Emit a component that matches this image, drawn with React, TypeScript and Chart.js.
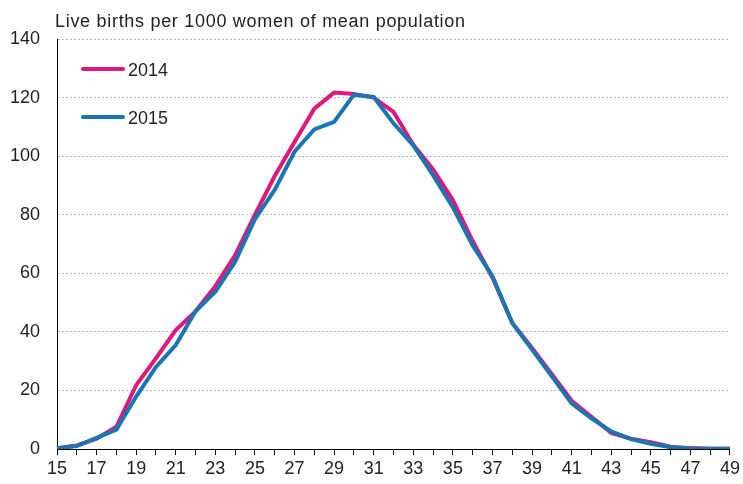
import React, { useEffect, useRef } from "react";
import { Chart, registerables } from "chart.js";

Chart.register(...registerables);

const ages = ["15","16","17","18","19","20","21","22","23","24","25","26","27","28","29","30","31","32","33","34","35","36","37","38","39","40","41","42","43","44","45","46","47","48","49"];
const births2014 = [0.3,1.2,3.5,7.6,21.8,31.0,40.6,47.0,55.6,66.2,80.0,93.2,104.8,116.2,121.7,121.2,120.0,115.1,103.9,95.5,85.0,71.0,58.5,43.0,34.5,25.5,16.5,11.0,5.5,3.5,2.3,0.8,0.3,0.1,0.1];
const births2015 = [0.3,1.0,3.8,6.6,17.9,28.0,35.5,47.0,53.7,63.9,78.5,88.5,101.5,109.1,111.7,121.0,120.2,111.2,103.7,93.5,82.5,69.5,59.0,43.0,34.0,24.8,15.6,10.5,6.0,3.4,1.8,0.6,0.2,0.1,0.1];
const seriesLabels = ["2014", "2015"];
const yTitle = "Live births per 1000 women of mean population";

const PINK = "#e2177b";
const BLUE = "#1776b4";
const FONT = "'Liberation Sans', Arial, sans-serif";
const FS = 18;

export default function App() {
  const ref = useRef<HTMLCanvasElement | null>(null);
  useEffect(() => {
    if (!ref.current) return;
    const overlay = {
      id: "overlay",
      afterDraw(chart: any) {
        const ctx = chart.ctx;
        const area = chart.chartArea;
        ctx.save();
        ctx.fillStyle = "#222";
        ctx.font = `${FS}px ${FONT}`;
        ctx.textBaseline = "alphabetic";
        ctx.textAlign = "left";
        try { (ctx as any).letterSpacing = "0.7px"; } catch (e) {}
        ctx.fillText(yTitle, area.left - 2, 27);
        try { (ctx as any).letterSpacing = "0px"; } catch (e) {}
        const rows = [69, 117];
        chart.data.datasets.forEach((ds: any, i: number) => {
          const y = rows[i];
          ctx.strokeStyle = ds.borderColor;
          ctx.lineWidth = 4;
          ctx.lineCap = "round";
          ctx.beginPath();
          ctx.moveTo(area.left + 26, y);
          ctx.lineTo(area.left + 66, y);
          ctx.stroke();
          ctx.fillStyle = "#222";
          ctx.fillText(ds.label, area.left + 71, y + 7);
        });
        ctx.restore();
      },
    };
    const chart = new Chart(ref.current, {
      type: "line",
      data: {
        labels: ages,
        datasets: [
          { label: seriesLabels[0], data: births2014, borderColor: PINK, backgroundColor: PINK, borderWidth: 4, pointRadius: 0, tension: 0, order: 2 },
          { label: seriesLabels[1], data: births2015, borderColor: BLUE, backgroundColor: BLUE, borderWidth: 4, pointRadius: 0, tension: 0, order: 1 },
        ],
      },
      options: {
        animation: false,
        responsive: true,
        maintainAspectRatio: false,
        layout: { padding: { top: 39, right: 12, left: 0, bottom: 0 } },
        plugins: { legend: { display: false }, tooltip: { enabled: false }, title: { display: false } },
        scales: {
          x: {
            type: "category",
            offset: false,
            grid: { drawOnChartArea: false, drawTicks: true, tickLength: 6, tickColor: "#000", color: "#000" },
            border: { display: true, color: "#000", width: 1 },
            ticks: {
              autoSkip: false,
              maxRotation: 0,
              minRotation: 0,
              padding: 3,
              color: "#222",
              font: { family: FONT, size: FS },
              callback: (_v: any, i: number) => (i % 2 === 0 ? ages[i] : ""),
            },
            afterFit: (s: any) => { s.height = 35; },
          },
          y: {
            min: 0,
            max: 140,
            ticks: { stepSize: 20, padding: 17, color: "#222", font: { family: FONT, size: FS } },
            grid: { drawTicks: false, color: (c: any) => (c.tick && c.tick.value === 0 ? "rgba(0,0,0,0)" : "#b8b8b8"), lineWidth: 1 },
            border: { display: true, color: "#000", width: 1, dash: [2, 2] },
            afterFit: (s: any) => { s.width = 57; },
          },
        },
      },
      plugins: [overlay],
    });
    return () => chart.destroy();
  }, []);
  return (
    <div style={{ position: "absolute", left: 0, top: 0, width: 743, height: 484, background: "#fff" }}>
      <canvas ref={ref} />
    </div>
  );
}
